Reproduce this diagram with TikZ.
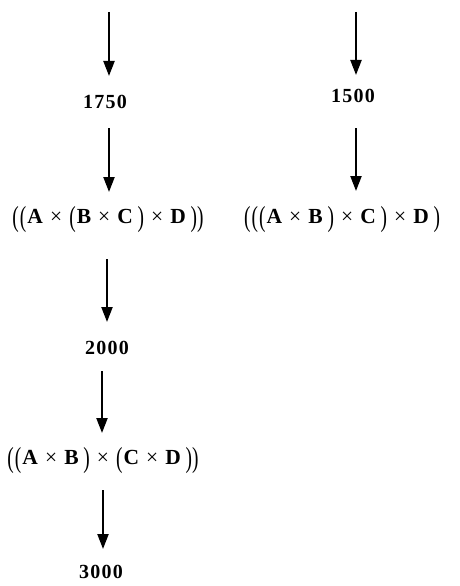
\documentclass[tikz,border=0pt]{standalone}
\usepackage{fontspec}
\setmainfont{Liberation Serif}
\usepackage{graphicx}
\usetikzlibrary{arrows.meta}
\newcommand{\LPar}{\raisebox{-0.15em}{\scalebox{0.9}[1.35]{\mdseries(}}\kern0.05em}
\newcommand{\RPar}{\raisebox{-0.15em}{\scalebox{0.9}[1.35]{\mdseries)}}}
\newcommand{\TMS}{\kern0.33em{\mdseries\raisebox{0.03em}{×}}\kern0.33em}
\newcommand{\SP}{\kern0.22em}
\newcommand{\DG}{\kern1.2pt}
\begin{document}
\begin{tikzpicture}[x=1pt,y=-1pt,
  arr/.style={line width=2.2pt,-{Triangle[width=11pt,length=15pt]}},
  num/.style={font=\fontsize{20}{24}\selectfont\bfseries,inner sep=0pt},
  expr/.style={font=\fontsize{21.5}{25}\selectfont\bfseries,inner sep=0pt}]
\fill[white] (0,0) rectangle (459,586);
% left column
\coordinate (a1s) at (109,12);  \coordinate (a1e) at (109,76);
\node[num] (n1750) at (105,102) {1\DG7\DG5\DG0};
\coordinate (a2s) at (109,128); \coordinate (a2e) at (109,192);
\node[expr] (e1) at (108,220) {\LPar\LPar A\TMS\LPar B\TMS C\SP\RPar\TMS D\SP\RPar\RPar};
\coordinate (a3s) at (107,259); \coordinate (a3e) at (107,322);
\node[num] (n2000) at (107,348) {2\DG0\DG0\DG0};
\coordinate (a4s) at (102,371); \coordinate (a4e) at (102,433);
\node[expr] (e3) at (103,461) {\LPar\LPar A\TMS B\SP\RPar\TMS\LPar C\TMS D\SP\RPar\RPar};
\coordinate (a5s) at (103,490); \coordinate (a5e) at (103,549);
\node[num] (n3000) at (101,572) {3\DG0\DG0\DG0};
% right column
\coordinate (b1s) at (356,12);  \coordinate (b1e) at (356,75);
\node[num] (n1500) at (353,96) {1\DG5\DG0\DG0};
\coordinate (b2s) at (356,128); \coordinate (b2e) at (356,191);
\node[expr] (e2) at (342,220) {\LPar\LPar\LPar A\TMS B\SP\RPar\TMS C\SP\RPar\TMS D\SP\RPar};
% arrows
\draw[arr] (a1s) -- (a1e);
\draw[arr] (a2s) -- (a2e);
\draw[arr] (a3s) -- (a3e);
\draw[arr] (a4s) -- (a4e);
\draw[arr] (a5s) -- (a5e);
\draw[arr] (b1s) -- (b1e);
\draw[arr] (b2s) -- (b2e);
\end{tikzpicture}
\end{document}
